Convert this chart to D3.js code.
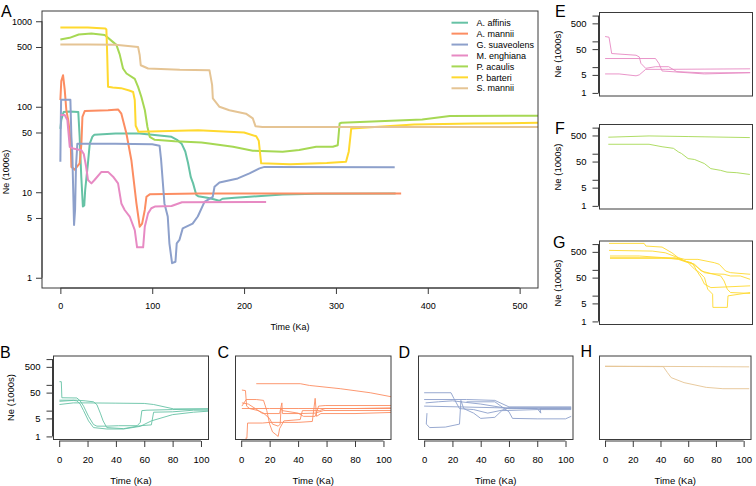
<!DOCTYPE html>
<html><head><meta charset="utf-8">
<script src="https://cdn.jsdelivr.net/npm/d3@7"></script>
<style>
body{margin:0;background:#fff}
svg{display:block}
text{font-family:"Liberation Sans",Arial,Helvetica,sans-serif;fill:#000}
</style>
</head><body>
<svg id="chart" width="756" height="486"></svg>
<script>
// ---------- labels & colours ----------
const species = ["A. affinis","A. mannii","G. suaveolens","M. enghiana","P. acaulis","P. barteri","S. mannii"];
const palette = ["#66C2A5","#FC8D62","#8DA0CB","#E78AC3","#A6D854","#FFD92F","#E5C494"];
const yTicks = [1,5,10,50,100,500,1000];
const yLabelsMain = [1,5,10,50,100,500,1000];
const yLabelsSmall = [1,5,50,500];
const xTicksMain = [0,100,200,300,400,500];
const xTicksSmall = [0,20,40,60,80,100];
const xTitle = "Time (Ka)";
const yTitle = "Ne (1000s)";

// ---------- panel A series: [Time (Ka), Ne (1000s)] ----------
const affinis = [[0,55],[1,70],[3.5,87],[10,88],[19.5,87],[21,44],[22.8,15],[24.5,6.8],[26,7],[27,10.6],[30,21.8],[32,37],[35,45],[37,47],[60,48.5],[86,48.7],[100,47],[121,44.5],[127,41],[132,37],[136,30],[139,22],[142,15],[144.5,12.7],[148,9.3],[150,9.0],[160,8.6],[167,8.3],[173,7.95],[176.5,8.4],[190,8.6],[206,8.85],[242,9.4],[279,9.6],[365,9.7]];
const mannii = [[0,120],[1,200],[2.9,234],[4.7,160],[6.5,91],[8.5,70],[10.2,50],[11.3,37],[12,19.8],[15.6,18.4],[21,21.8],[22.9,37],[24,76],[26.5,89],[51.9,91],[62.8,93],[66.4,83],[71.9,48.7],[77.3,23.7],[82.8,7.4],[86.4,3.95],[89,4.3],[91.9,6.2],[93.7,8.85],[97.3,9.45],[150,9.7],[371,9.7]];
const suaveolens = [[0,22.7],[0.4,60],[0.8,121],[10.9,121],[12,44.5],[13,28.5],[14.9,4.14],[16,6.2],[17,20],[18.5,37],[60,37],[100,36.5],[108,35],[109.7,23.7],[113.3,7.4],[116.9,5.2],[118.7,2.53],[121.6,1.48],[125.3,1.54],[126.7,2.53],[129.6,2.77],[133.2,3.78],[144,4.3],[149.6,5.2],[156.9,7.7],[165.9,8.85],[167.8,11.6],[173.2,13],[193.1,14.5],[205.9,16.6],[216.8,19],[222.2,19.8],[364,19.6]];
const enghiana = [[0,80],[4.7,80],[7.6,70],[10.2,34],[13.8,32.5],[22.9,31],[25.5,28],[28,20],[30.1,13.9],[33.8,12.7],[37.4,14],[44.7,17.3],[51.9,17.3],[57.4,15.2],[62.8,12.7],[66.4,7.4],[70,6.2],[75.5,5.2],[81,3.6],[83.5,2.27],[90.1,2.27],[91.9,3.95],[95.5,5.66],[99,6.5],[102.8,6.8],[121,6.9],[132.4,7.65],[224,7.7]];
const acaulis = [[0,611],[10,640],[20,700],[33.8,718],[48.3,690],[57.4,570],[61,530],[64.6,410],[68.2,280],[72,245],[81,212],[84.6,171],[88.2,130],[92,91],[94.8,58],[97.3,44.5],[102.8,41],[124.5,39.5],[153.6,38.2],[162,37.2],[188,34],[209.5,30.6],[242,29.7],[260,31.2],[278.5,34],[296.6,34],[302,35.5],[304,63.7],[306,65],[394,71],[424,78],[520,78.5]];
const barteri = [[0,844],[30,844],[49,822],[50.1,800],[51,400],[51.9,171],[57,168],[66,165],[75,155],[79.2,149],[81,120],[82,60],[85,51],[97,51.5],[150,53],[200,50],[213.2,45.2],[216,40],[218.6,21.8],[250,21.3],[290,22],[311,22.7],[314,30],[316.7,55.8],[385,62],[450,63.5],[520,65]];
const smannii = [[0,535],[30,535],[60,530],[84.6,501],[86.4,400],[87.5,306],[95.5,280],[130,270],[162.3,268],[165.2,180],[166,125],[173.2,100],[184,91],[202,83],[209.5,73],[212.4,59.3],[220,58],[520,58]];
const mainSeries = [affinis, mannii, suaveolens, enghiana, acaulis, barteri, smannii];

// ---------- small panels: individual runs ----------
const runsB = [
 [[0.2,133],[1.5,133],[1.9,31.6],[12.5,31],[14.8,24],[17.2,15],[20.7,6],[24.2,2.9],[26.6,2.5],[33.6,2.5],[41.9,2.6],[55,2.6],[57.2,3.5],[58.3,10],[61.9,10.4],[80,11],[105,11.7]],
 [[0.2,25.5],[12,25.5],[18.3,24],[24.2,22],[26.6,17],[29,8],[31,4],[33.6,2.2],[45.4,2],[57.2,2.6],[65,2.8],[66.6,8.7],[80,9],[94.8,10.4],[105,10.4]],
 [[0.2,17.3],[10,20],[18.3,20],[40,19.5],[60,19],[66.6,17.3],[80.7,11.7],[105,11.7]],
 [[0.2,23],[10,25],[12.5,24],[14.8,18],[17.2,10],[20.7,4],[24.2,2.2],[33.6,1.94],[45.4,1.94],[57.2,2.46],[65,4],[80,7],[94.8,8.7],[105,9.5]]
];
const runsC = [
 [[10.6,111],[41.5,111],[48,95],[69.6,71],[90.7,49.5],[105.5,34.5]],
 [[0.5,63],[3,60],[3.8,15],[6,12],[12,10],[15.7,8],[19.9,5],[22,3],[26,2.5],[27.4,3],[28,12],[29,10],[40,8],[43.8,6],[52,6],[54.4,15],[59,15.8],[105.5,15.8]],
 [[0.5,15],[3.5,27],[10.6,27],[15.7,25],[18,10],[20,3],[22,1.5],[26,1],[27,2],[30,4],[41.5,4.5],[43,10],[55,10],[59,12.1],[105.5,12.1]],
 [[0.5,20],[5,18],[10,12],[15,7.7],[27,7.7],[28.6,20],[29,7.7],[41.5,7.7],[52,8],[58,10.1],[105.5,10.1]],
 [[3,0.85],[4,0.85],[4.5,3.3],[15,3.3],[20,3.5],[40,3.5],[50,3.8],[52,30],[53,6],[56,7.7],[80,7.7],[105.5,8.5]],
 [[0.5,12.1],[10,12.1],[20,12.1],[40,12.1],[60,12.1],[80,12.1],[105.5,12.8]]
];
const runsD = [
 [[0,49.5],[19,49.5],[21,30],[25,12],[35,11],[45,8],[55,10.4],[60,13],[104,13]],
 [[0,27],[30,27],[50,25],[60,14],[104,14]],
 [[1,20],[10,22],[20,24],[40,18],[60,12],[104,12.5]],
 [[2,8],[1.5,3],[4,2.2],[15,2.3],[25,3],[26,25],[28,12],[35,8],[40,5],[50,5.5],[55,10],[80,11],[104,11]],
 [[30,22],[50,22],[60,9],[62.5,5],[80,4.8],[100,4.8],[104,6]],
 [[0,15],[50,13],[80,12],[82.5,8],[82,12],[104,12]]
];
const runsE = [
 [[0,154],[2.8,145],[4.7,33.7],[22.1,29],[24.4,25],[25.6,14],[29,9],[36,10.4],[45.4,10.4],[51.2,6.7],[70,6],[103.6,6.1]],
 [[0,21.6],[36,21.6],[38.4,14],[40.7,7.1],[71,5.45],[103.6,6.1]],
 [[0,5.45],[10,5.45],[22.1,4.6],[24.4,5],[29,8.2],[43,8.2],[103.6,8.6]]
];
const runsF = [
 [[2.3,430],[31.4,480],[59.3,455],[103.4,415]],
 [[2.3,230],[31.4,230],[40.7,185],[48.8,161],[52.3,118],[54.6,102],[59.3,65],[63.9,60],[70.9,42],[75.5,26.8],[82.5,23],[87.1,19.7],[94.1,18.7],[103.4,16]]
];
const runsG = [
 [[2.8,1064],[27.9,1064],[29.1,840],[40.7,765],[47.7,460],[52.3,295],[57,220],[61.6,190],[66.3,121],[71,78],[75.6,71],[85,67.5],[89.6,58],[96.6,58],[103.6,43]],
 [[2.8,570],[33.7,535],[43,460],[52.3,295],[57,255],[66.3,255],[78,190],[81.5,165],[86.1,90],[89.6,78],[103.6,67.5]],
 [[3.5,345],[24.4,345],[43,295],[52.3,255],[59.3,190],[64,105],[67.5,78],[71,50],[73.3,17.8],[76.8,11.4],[77,3.5],[87.3,3.5],[87.8,9.8],[103.6,13.2]],
 [[3.5,295],[50,295],[57,220],[62.8,165],[66.3,78],[68.7,50],[71,27.8],[75.6,20.5],[103.6,24]],
 [[3.5,280],[40,280],[52.3,270],[64,165],[68.7,90],[82.6,58],[85,37],[87.3,17.8],[89.6,13.2],[103.6,12.2]]
];
const runsH = [
 [[0,530],[40,520],[104,500]],
 [[0,520],[42,510],[45,300],[47.7,191],[57,122],[73,80],[85,71],[104,71]]
];

// ---------- drawing ----------
const svg = d3.select("#chart");
const logLo = Math.pow(10,-0.12), logHi = Math.pow(10,3.12);
let clipId = 0;

function panel(o){
  const x = d3.scaleLinear().domain(o.xDomain).range([o.l,o.r]);
  const y = d3.scaleLog().domain([logLo,logHi]).range([o.b,o.t]);
  const g = svg.append("g");
  const id = "clip"+(clipId++);
  svg.append("clipPath").attr("id",id).append("rect")
     .attr("x",o.l).attr("y",o.t).attr("width",o.r-o.l).attr("height",o.b-o.t);
  const line = d3.line().x(d=>x(d[0])).y(d=>y(d[1]));
  const lg = g.append("g").attr("clip-path",`url(#${id})`);
  o.series.forEach((s,i)=>{
    lg.append("path").attr("d",line(s)).attr("fill","none")
      .attr("stroke",o.colors[i]).attr("stroke-width",o.lw)
      .attr("stroke-linejoin","round").attr("stroke-opacity",o.op||1);
  });
  g.append("rect").attr("x",o.l).attr("y",o.t).attr("width",o.r-o.l).attr("height",o.b-o.t)
    .attr("fill","none").attr("stroke","#3a3a3a").attr("stroke-width",1);
  if(o.xAxis){
    const ax = g.append("g").attr("transform",`translate(0,${o.b+o.xOff})`)
      .call(d3.axisBottom(x).tickValues(o.xTicks).tickSize(o.tick).tickPadding(o.xPad).tickSizeOuter(0));
    ax.select(".domain").attr("stroke","#3a3a3a").attr("d",`M${x(o.xTicks[0])},0H${x(o.xTicks[o.xTicks.length-1])}`);
    ax.selectAll(".tick line").attr("stroke","#3a3a3a");
    ax.selectAll("text").attr("font-size",o.fs).attr("font-family",null);
    g.append("text").attr("x",(o.l+o.r)/2).attr("y",o.xTitleY).attr("text-anchor","middle")
      .attr("font-size",o.fs).text(xTitle);
  }
  if(o.yAxis){
    const ay = g.append("g").attr("transform",`translate(${o.l-o.yOff},0)`)
      .call(d3.axisLeft(y).tickValues(yTicks).tickSize(o.tick).tickPadding(o.yPad)
        .tickFormat(d=>o.yLabels.includes(d)?String(d):""));
    ay.select(".domain").attr("stroke","#3a3a3a").attr("d",`M0,${y(1)}V${y(1000)}`);
    ay.selectAll(".tick line").attr("stroke","#3a3a3a");
    ay.selectAll("text").attr("font-size",o.fs).attr("font-family",null);
    g.append("text").attr("transform",`translate(${o.yTitleX},${o.yTitleY}) rotate(-90)`)
      .attr("text-anchor","middle").attr("font-size",o.fs).text(yTitle);
  }
  svg.append("text").attr("x",o.lx).attr("y",o.ly).attr("font-size",16).text(o.letter);
  return {x,y};
}

// Panel A
panel({l:42,r:538,t:11,b:288,xDomain:[-20,520],series:mainSeries,colors:palette,lw:2,
  xAxis:true,xTicks:xTicksMain,xOff:0,tick:6,xPad:9,fs:9,xTitleY:330,
  yAxis:true,yOff:0,yPad:4,yLabels:yLabelsMain,yTitleX:8.5,yTitleY:172,
  letter:"A",lx:1,ly:17});

// legend
const leg = svg.append("g");
species.forEach((s,i)=>{
  const yy = 22.7 + i*10.93;
  leg.append("line").attr("x1",451.5).attr("x2",468).attr("y1",yy).attr("y2",yy)
    .attr("stroke",palette[i]).attr("stroke-width",2);
  leg.append("text").attr("x",476.5).attr("y",yy).attr("dy","0.35em").attr("font-size",9).text(s);
});

const smallCommon = {xDomain:[-4,105.3],lw:1,op:0.9,tick:6,xOff:1.5,xPad:9,fs:9.5,xTitleY:484,
  yOff:1,yPad:6,yLabels:yLabelsSmall,xTicks:xTicksSmall};
// right column
panel(Object.assign({},smallCommon,{l:599.5,r:752.5,t:12.5,b:96,series:runsE,colors:runsE.map(()=>palette[3]),
  yAxis:true,yTitleX:561,yTitleY:54,letter:"E",lx:555,ly:16.5}));
panel(Object.assign({},smallCommon,{l:599.5,r:752.5,t:124.5,b:209,series:runsF,colors:runsF.map(()=>palette[4]),
  yAxis:true,yTitleX:561,yTitleY:167,letter:"F",lx:555,ly:133.5}));
panel(Object.assign({},smallCommon,{l:599.5,r:752.5,t:241,b:324.5,series:runsG,colors:runsG.map(()=>palette[5]),
  yAxis:true,yTitleX:561,yTitleY:283,letter:"G",lx:553,ly:247.5}));
// bottom row
panel(Object.assign({},smallCommon,{l:53.5,r:208.5,t:356,b:439.5,series:runsB,colors:runsB.map(()=>palette[0]),
  xAxis:true,yAxis:true,yTitleX:14,yTitleY:397.5,letter:"B",lx:0,ly:357.5}));
panel(Object.assign({},smallCommon,{l:235.5,r:391,t:356,b:439.5,series:runsC,colors:runsC.map(()=>palette[1]),
  xAxis:true,letter:"C",lx:217.5,ly:357.5}));
panel(Object.assign({},smallCommon,{l:418.5,r:573,t:356,b:439.5,series:runsD,colors:runsD.map(()=>palette[2]),
  xAxis:true,letter:"D",lx:398.5,ly:357.5}));
panel(Object.assign({},smallCommon,{l:599.5,r:751,t:356,b:439.5,series:runsH,colors:runsH.map(()=>palette[6]),
  xAxis:true,letter:"H",lx:580.5,ly:357}));
</script>
</body></html>
